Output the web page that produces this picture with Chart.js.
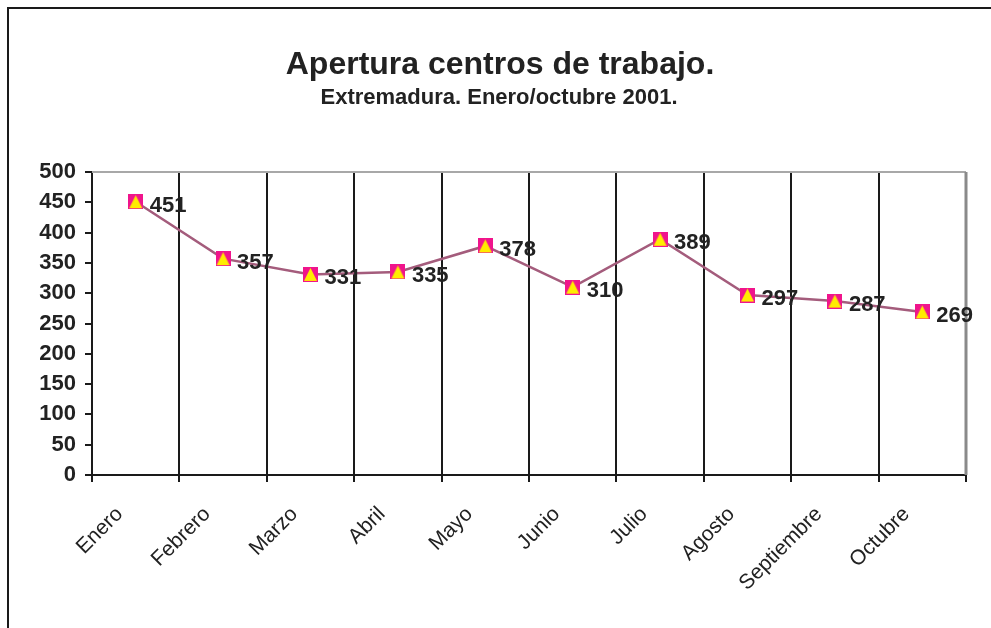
<!DOCTYPE html>
<html>
<head>
<meta charset="utf-8">
<script src="https://cdn.jsdelivr.net/npm/chart.js@4.4.1/dist/chart.umd.min.js"></script>
<style>
  html, body { margin: 0; padding: 0; background: #fff; }
  #wrap { width: 991px; height: 628px; position: relative; }
</style>
</head>
<body>
<div id="wrap"><canvas id="chart" width="991" height="628"></canvas></div>
<script>
const months = ["Enero", "Febrero", "Marzo", "Abril", "Mayo", "Junio", "Julio", "Agosto", "Septiembre", "Octubre"];
const openings = [451, 357, 331, 335, 378, 310, 389, 297, 287, 269];
const yTicks = [0, 50, 100, 150, 200, 250, 300, 350, 400, 450, 500];
const titleText = "Apertura centros de trabajo.";
const subtitleText = "Extremadura. Enero/octubre 2001.";

const FONT = "'Liberation Sans', Arial, sans-serif";

// marker: magenta square with a yellow triangle
const marker = document.createElement("canvas");
marker.width = 15;
marker.height = 15;
(() => {
  const m = marker.getContext("2d");
  m.fillStyle = "#f0148c";
  m.fillRect(0, 0, 15, 15);
  m.fillStyle = "#ffec00";
  m.beginPath();
  m.moveTo(7.5, 1);
  m.lineTo(14, 14);
  m.lineTo(1, 14);
  m.closePath();
  m.fill();
})();

const frame = {
  id: "frame",
  beforeDraw(chart) {
    const ctx = chart.ctx;
    ctx.save();
    ctx.fillStyle = "#fff";
    ctx.fillRect(0, 0, chart.width, chart.height);
    // outer border
    ctx.strokeStyle = "#1a1a1a";
    ctx.lineWidth = 2;
    ctx.beginPath();
    ctx.moveTo(8, 640);
    ctx.lineTo(8, 8);
    ctx.lineTo(1000, 8);
    ctx.stroke();
    // titles
    ctx.fillStyle = "#222";
    ctx.textAlign = "center";
    ctx.textBaseline = "middle";
    ctx.font = "bold 32px " + FONT;
    ctx.fillText(titleText, 500, 65);
    ctx.font = "bold 22px " + FONT;
    ctx.fillText(subtitleText, 499, 98);
    ctx.restore();
  },
  afterDraw(chart) {
    const ctx = chart.ctx;
    const a = chart.chartArea;
    ctx.save();
    ctx.strokeStyle = "#a8a8a8";
    ctx.lineWidth = 2;
    ctx.beginPath();
    ctx.moveTo(a.left, a.top);
    ctx.lineTo(a.right, a.top);
    ctx.stroke();
    ctx.strokeStyle = "#8a8a8a";
    ctx.lineWidth = 3;
    ctx.beginPath();
    ctx.moveTo(a.right, a.top);
    ctx.lineTo(a.right, a.bottom);
    ctx.stroke();
    // value labels
    const meta = chart.getDatasetMeta(0);
    ctx.fillStyle = "#222";
    ctx.font = "bold 22px " + FONT;
    ctx.textAlign = "left";
    ctx.textBaseline = "middle";
    meta.data.forEach((pt, i) => {
      ctx.fillText(String(openings[i]), pt.x + 14, pt.y + 4);
    });
    ctx.restore();
  },
};

new Chart(document.getElementById("chart"), {
  type: "line",
  data: {
    labels: months,
    datasets: [
      {
        data: openings,
        borderColor: "#a45c7c",
        borderWidth: 2.5,
        tension: 0,
        pointStyle: marker,
        pointRadius: 7,
        pointHoverRadius: 7,
      },
    ],
  },
  options: {
    responsive: false,
    animation: false,
    events: [],
    layout: { padding: { left: 0, top: 172, right: 25, bottom: 0 } },
    plugins: { legend: { display: false }, tooltip: { enabled: false } },
    scales: {
      x: {
        offset: true,
        afterFit: (s) => { s.height = 628 - 172 - 303; },
        grid: {
          offset: true,
          color: (c) => (c.index === months.length ? "#8a8a8a" : "#1a1a1a"),
          lineWidth: 2,
          tickLength: 7,
        },
        border: { color: "#1a1a1a", width: 2 },
        ticks: {
          color: "#222",
          font: { family: FONT, size: 21 },
          minRotation: 45,
          maxRotation: 45,
          padding: 20,
          labelOffset: -16,
        },
      },
      y: {
        min: 0,
        max: 500,
        afterFit: (s) => { s.width = 92; },
        afterBuildTicks: (s) => { s.ticks = yTicks.map((v) => ({ value: v })); },
        grid: { drawOnChartArea: false, color: "#1a1a1a", lineWidth: 2, tickLength: 7 },
        border: { color: "#1a1a1a", width: 2 },
        ticks: {
          color: "#222",
          font: { family: FONT, size: 22, weight: "bold" },
          padding: 9,
        },
      },
    },
  },
  plugins: [frame],
});
</script>
</body>
</html>
